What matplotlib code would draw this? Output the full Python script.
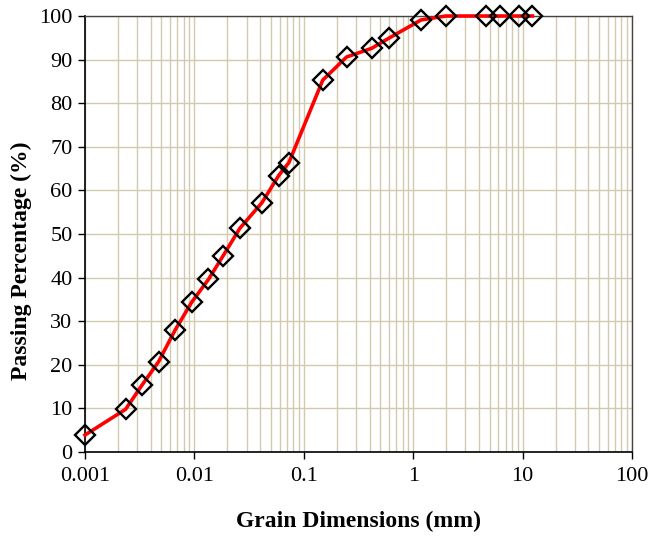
import matplotlib
matplotlib.use("Agg")
import matplotlib.pyplot as plt
from matplotlib.ticker import LogLocator, FixedLocator, NullFormatter

plt.rcParams['font.family'] = ['Liberation Serif', 'DejaVu Serif']

# grain size (mm) and passing percentage
grain_mm = [0.001, 0.00235, 0.00333, 0.0047, 0.00667, 0.00947, 0.01345, 0.0183,
            0.026, 0.0415, 0.0589, 0.0731, 0.149, 0.246, 0.418, 0.598,
            1.18, 1.98, 4.63, 6.21, 9.3, 12.3]
passing = [3.9, 9.8, 15.4, 20.7, 28.0, 34.4, 39.6, 45.0,
           51.3, 57.2, 63.4, 66.4, 85.3, 90.6, 92.6, 94.9,
           99.1, 100, 100, 100, 100, 100]

x_ticks = [0.001, 0.01, 0.1, 1, 10, 100]
x_labels = ['0.001', '0.01', '0.1', '1', '10', '100']
y_ticks = list(range(0, 101, 10))

grid_col = '#d2caae'

fig = plt.figure(figsize=(6.51, 5.39), dpi=100)
ax = fig.add_axes([0.1306, 0.1614, 0.8402, 0.8089])

ax.plot(grain_mm, passing, color='red', lw=2.6, zorder=3,
        marker='D', ms=10.5, mfc='none', mec='black', mew=1.7, clip_on=False)

ax.set_xscale('log')
ax.set_xlim(0.001, 100)
ax.set_ylim(0, 100)
ax.xaxis.set_major_locator(FixedLocator(x_ticks))
ax.set_xticklabels(x_labels)
ax.xaxis.set_minor_locator(LogLocator(base=10, subs=range(2, 10)))
ax.xaxis.set_minor_formatter(NullFormatter())
ax.set_yticks(y_ticks)

ax.grid(True, which='major', axis='both', color=grid_col, lw=1.0, zorder=0)
ax.grid(True, which='minor', axis='x', color=grid_col, lw=1.0, zorder=0)
ax.set_axisbelow(True)

ax.tick_params(axis='both', which='major', direction='out', length=5, width=1,
               labelsize=16, colors='black')
ax.tick_params(axis='x', which='minor', length=0)
ax.tick_params(axis='x', pad=6)
ax.tick_params(axis='y', pad=4)

for side in ['left', 'bottom']:
    ax.spines[side].set_color('black')
    ax.spines[side].set_linewidth(1.2)
for side in ['top', 'right']:
    ax.spines[side].set_color('#444444')
    ax.spines[side].set_linewidth(1.0)

ax.set_xlabel('Grain Dimensions (mm)', fontsize=17, fontweight='bold', labelpad=18)
ax.set_ylabel('Passing Percentage (%)', fontsize=17, fontweight='bold')
# label sits a bit below the axis middle in the original
ax.yaxis.set_label_coords(-0.097, 0.438)

fig.savefig('out.png', dpi=100)
